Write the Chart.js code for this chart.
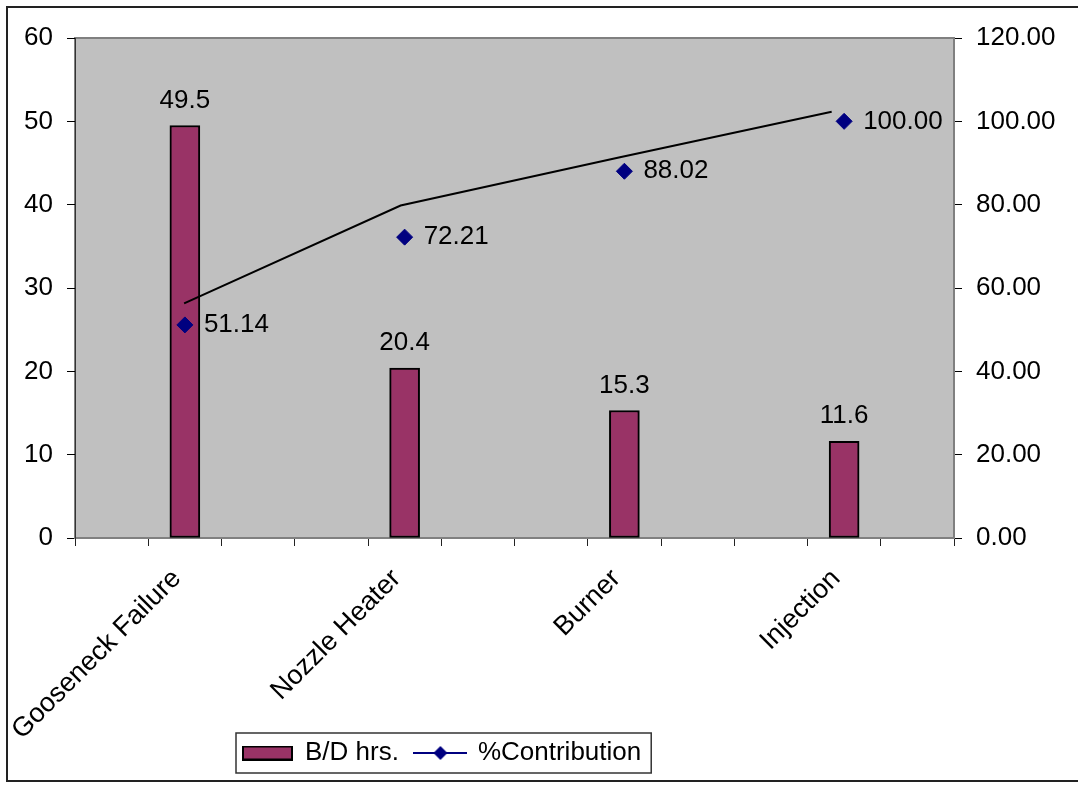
<!DOCTYPE html>
<html>
<head>
<meta charset="utf-8">
<script src="https://cdn.jsdelivr.net/npm/chart.js@4/dist/chart.umd.min.js"></script>
<style>
  body { margin: 0; background: #fff; }
  canvas { display: block; }
</style>
</head>
<body>
<canvas id="paretoChart" width="1078" height="785"></canvas>
<script>
// data
const categories = ['Gooseneck Failure', 'Nozzle Heater', 'Burner', 'Injection'];
const bdHours = [49.5, 20.4, 15.3, 11.6];
const contribution = [51.14, 72.21, 88.02, 100.00];
const leftTicks = [0, 10, 20, 30, 40, 50, 60];
const rightTicks = [0, 20, 40, 60, 80, 100, 120];
// the plain black polyline drawn over the plot (x in slot units, y on the % axis)
const trendX = [2.98, 8.89, 14.88, 20.66];
const trendY = [56.3, 79.8, 91.4, 102.3];

// x axis runs 0..24, each category sits in the middle of a 6-unit slot
const slotCenters = categories.map((_, i) => 3 + 6 * i);

const FONT = { family: "'Liberation Sans', Arial, sans-serif", size: 26 };
const XFONT = { family: FONT.family, size: 27 };

// legend swatches
function barSwatch() {
    const c = document.createElement('canvas');
    c.width = 51; c.height = 15;
    const g = c.getContext('2d');
    g.fillStyle = '#993366';
    g.fillRect(0, 0, 51, 15);
    g.strokeStyle = '#000';
    g.lineWidth = 2;
    g.strokeRect(1, 1, 49, 13);
    return c;
}
function lineSwatch() {
    const c = document.createElement('canvas');
    c.width = 54; c.height = 16;
    const g = c.getContext('2d');
    g.strokeStyle = '#000080';
    g.lineWidth = 2;
    g.beginPath(); g.moveTo(0, 8); g.lineTo(54, 8); g.stroke();
    g.fillStyle = '#000080';
    g.beginPath();
    g.moveTo(27, 1); g.lineTo(34, 8); g.lineTo(27, 15); g.lineTo(20, 8);
    g.closePath(); g.fill();
    return c;
}

// background, outer frame and grey plot area
const backdrop = {
    id: 'backdrop',
    beforeDraw(chart) {
        const { ctx, chartArea: a } = chart;
        ctx.save();
        ctx.fillStyle = '#fff';
        ctx.fillRect(0, 0, chart.width, chart.height);
        ctx.strokeStyle = '#222';
        ctx.lineWidth = 2;
        ctx.strokeRect(7, 7, chart.width + 20, 774);
        ctx.fillStyle = '#C0C0C0';
        ctx.fillRect(a.left, a.top, a.right - a.left, a.bottom - a.top);
        ctx.strokeStyle = '#808080';
        ctx.lineWidth = 2;
        ctx.strokeRect(a.left, a.top, a.right - a.left, a.bottom - a.top);
        ctx.restore();
    }
};

// value labels next to bars and markers
const valueLabels = {
    id: 'valueLabels',
    afterDatasetsDraw(chart) {
        const { ctx } = chart;
        ctx.save();
        ctx.font = FONT.size + 'px ' + FONT.family;
        ctx.fillStyle = '#000';
        chart.getDatasetMeta(0).data.forEach((el, i) => {
            ctx.textAlign = 'center';
            ctx.textBaseline = 'alphabetic';
            ctx.fillText(String(bdHours[i]), el.x, el.y - 18);
        });
        chart.getDatasetMeta(1).data.forEach((el, i) => {
            ctx.textAlign = 'left';
            ctx.textBaseline = 'middle';
            ctx.fillText(contribution[i].toFixed(2), el.x + 19, el.y);
        });
        ctx.restore();
    }
};

// move the legend to where the original has it and box it
const legendBox = {
    id: 'legendBox',
    afterUpdate(chart) {
        const lg = chart.legend;
        const hb = lg.legendHitBoxes;
        if (!hb || !hb.length) return;
        const dx = 243 - hb[0].left;
        const dy = 740 - hb[0].top;
        lg.left += dx;
        lg.right += dx;
        lg.top += dy;
        lg.bottom += dy;
        hb.forEach(h => { h.left += dx; h.top += dy; });
    },
    afterDraw(chart) {
        const hb = chart.legend.legendHitBoxes;
        if (!hb || !hb.length) return;
        const last = hb[hb.length - 1];
        const x0 = hb[0].left - 7;
        const x1 = last.left + last.width + 10;
        const y0 = hb[0].top - 7;
        const y1 = hb[0].top + hb[0].height + 7;
        const { ctx } = chart;
        ctx.save();
        ctx.strokeStyle = '#333';
        ctx.lineWidth = 1.5;
        ctx.strokeRect(x0, y0, x1 - x0, y1 - y0);
        ctx.restore();
    }
};

new Chart(document.getElementById('paretoChart'), {
    type: 'bar',
    data: {
        datasets: [{
            type: 'bar',
            label: 'B/D hrs.',
            data: slotCenters.map((x, i) => ({ x: x, y: bdHours[i] })),
            backgroundColor: '#993366',
            borderColor: '#000',
            borderWidth: 2,
            borderSkipped: false,
            barThickness: 30,
            yAxisID: 'y',
            order: 3
        }, {
            type: 'line',
            label: '%Contribution',
            data: slotCenters.map((x, i) => ({ x: x, y: contribution[i] })),
            showLine: false,
            pointStyle: 'rectRot',
            pointRadius: 8,
            pointBackgroundColor: '#000080',
            pointBorderColor: '#000080',
            borderColor: '#000080',
            yAxisID: 'y2',
            order: 1
        }, {
            type: 'line',
            label: 'trend',
            data: trendX.map((x, i) => ({ x: x, y: trendY[i] })),
            borderColor: '#000',
            borderWidth: 2,
            pointRadius: 0,
            fill: false,
            tension: 0,
            yAxisID: 'y2',
            order: 2
        }]
    },
    options: {
        responsive: false,
        animation: false,
        devicePixelRatio: 1,
        // the legend is moved back up by the plugin, so let the x axis run deep
        layout: { padding: { top: 38, left: 0, right: 0, bottom: -40 } },
        scales: {
            x: {
                type: 'linear',
                min: 0,
                max: 24,
                offset: false,
                afterFit: s => { s.height = 234; },
                afterBuildTicks: s => { s.ticks = Array.from({ length: 25 }, (_, i) => ({ value: i })); },
                ticks: {
                    autoSkip: false,
                    stepSize: 1,
                    minRotation: 45,
                    maxRotation: 45,
                    labelOffset: -8,
                    padding: 17,
                    color: '#000',
                    font: XFONT,
                    callback: v => {
                        const i = slotCenters.indexOf(v);
                        return i >= 0 ? categories[i] : '';
                    }
                },
                grid: {
                    offset: false,
                    drawOnChartArea: false,
                    tickLength: 8,
                    color: c => (c.tick && c.tick.value % 2 === 0) ? '#222' : 'rgba(0,0,0,0)'
                },
                border: { color: '#808080', width: 2 }
            },
            y: {
                position: 'left',
                min: 0,
                max: 60,
                afterFit: s => { s.width = 75; },
                afterBuildTicks: s => { s.ticks = leftTicks.map(v => ({ value: v })); },
                ticks: { color: '#000', font: FONT, padding: 14 },
                grid: { drawOnChartArea: false, tickLength: 8, color: '#000' },
                border: { color: '#333', width: 1 }
            },
            y2: {
                position: 'right',
                min: 0,
                max: 120,
                afterFit: s => { s.width = 124; },
                afterBuildTicks: s => { s.ticks = rightTicks.map(v => ({ value: v })); },
                ticks: { color: '#000', font: FONT, padding: 14, callback: v => Number(v).toFixed(2) },
                grid: { drawOnChartArea: false, tickLength: 8, color: '#000' },
                border: { color: '#808080', width: 2 }
            }
        },
        plugins: {
            tooltip: { enabled: false },
            legend: {
                position: 'bottom',
                align: 'center',
                labels: {
                    usePointStyle: true,
                    pointStyleWidth: 49,
                    padding: 17,
                    color: '#000',
                    font: FONT,
                    generateLabels: () => [
                        { text: 'B/D hrs.', pointStyle: barSwatch(), datasetIndex: 0, fontColor: '#000', lineWidth: 0, hidden: false },
                        { text: '%Contribution', pointStyle: lineSwatch(), datasetIndex: 1, fontColor: '#000', lineWidth: 0, hidden: false }
                    ]
                }
            }
        }
    },
    plugins: [backdrop, valueLabels, legendBox]
});
</script>
</body>
</html>
